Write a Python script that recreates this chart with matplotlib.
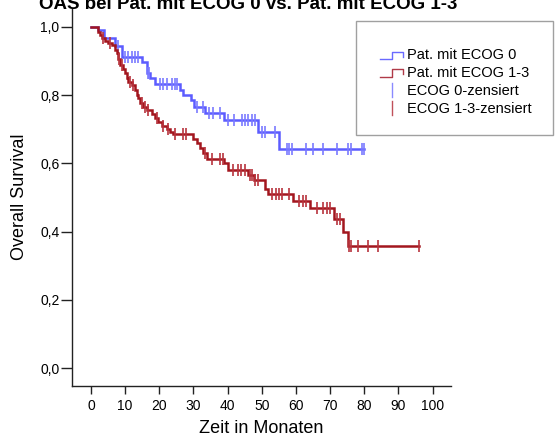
import numpy as np
import matplotlib
matplotlib.use("Agg")
import matplotlib.pyplot as plt
from matplotlib.lines import Line2D
from matplotlib.patches import Rectangle

plt.rcParams['font.family'] = ['Liberation Sans', 'DejaVu Sans']

# ---------------- data ----------------
title = "OAS bei Pat. mit ECOG 0 vs. Pat. mit ECOG 1-3"
x_label = "Zeit in Monaten"
y_label = "Overall Survival"
x_ticks = [0, 10, 20, 30, 40, 50, 60, 70, 80, 90, 100]
y_ticks = [0.0, 0.2, 0.4, 0.6, 0.8, 1.0]
y_tick_labels = ["0,0", "0,2", "0,4", "0,6", "0,8", "1,0"]
legend_labels = ["Pat. mit ECOG 0", "Pat. mit ECOG 1-3", "ECOG 0-zensiert", "ECOG 1-3-zensiert"]

blue_event_t = [2.1, 3.8, 7.0, 9.0, 14.8, 16.3, 17.4, 18.7, 26.1, 26.9, 29.2, 30.2,
                33.4, 38.9, 49.0, 55.1]
blue_surv = [0.990, 0.967, 0.944, 0.912, 0.898, 0.864, 0.849, 0.832, 0.815, 0.800,
             0.785, 0.766, 0.748, 0.727, 0.691, 0.642]
blue_end = 79.9
blue_cens = [8.0, 10.0, 10.9, 11.9, 12.9, 13.9, 16.7, 17.1, 20.2, 21.2, 22.2, 23.6,
             24.5, 25.3, 31.0, 32.9, 34.6, 35.7, 37.8, 40.0, 41.9, 44.1, 45.1, 46.1,
             47.1, 48.0, 50.0, 51.0, 53.9, 57.3, 58.1, 58.8, 63.0, 65.1, 68.0, 72.1,
             75.3, 76.0, 79.3, 79.9]

red_event_t = [2.1, 2.6, 3.1, 4.1, 5.1, 6.1, 7.0, 7.5, 8.0, 8.5, 9.5, 10.0, 10.5,
               10.9, 11.9, 12.9, 13.4, 13.9, 14.3, 15.3, 16.3, 17.8, 18.7, 19.7,
               20.7, 22.2, 23.1, 24.1, 30.0, 31.0, 31.9, 32.9, 33.9, 39.0, 40.2,
               46.1, 47.6, 51.0, 51.9, 59.1, 64.1, 71.0, 73.9, 75.1]
red_surv = [0.985, 0.976, 0.966, 0.958, 0.951, 0.946, 0.932, 0.922, 0.907, 0.888,
            0.876, 0.864, 0.851, 0.839, 0.829, 0.815, 0.800, 0.790, 0.776, 0.766,
            0.756, 0.746, 0.732, 0.722, 0.709, 0.702, 0.693, 0.686, 0.670, 0.659,
            0.645, 0.629, 0.614, 0.600, 0.580, 0.566, 0.551, 0.524, 0.509, 0.490,
            0.468, 0.437, 0.400, 0.358]
red_end = 96.0
red_cens = [3.4, 5.6, 8.2, 9.2, 11.4, 12.2, 14.8, 15.8, 16.8, 19.2, 21.2, 22.5,
            24.6, 27.0, 27.8, 33.3, 35.3, 37.8, 38.6, 41.7, 43.1, 43.8, 45.0, 46.6,
            47.2, 48.0, 49.0, 52.9, 54.2, 55.1, 56.0, 58.1, 61.0, 62.0, 63.0, 66.1,
            68.0, 69.0, 70.0, 71.9, 72.9, 75.4, 76.0, 78.1, 81.0, 83.9, 96.0]

blue_col = '#5c5cff'
blue_cens_col = '#7a7aff'
red_col = '#a3161e'
red_cens_col = '#b8343d'

# ---------------- figure ----------------
W, H = 559, 436
fig = plt.figure(figsize=(W / 100, H / 100), dpi=100)

def fx(px):
    return px / W

def fy(py):
    return 1 - py / H

ax = fig.add_axes([fx(72), fy(386.4), fx(451) - fx(72), fy(9) - fy(386.4)])
ax.set_xlim(-5.56, 105.4)
ax.set_ylim(-0.053, 1.052)


def km(ev_t, surv, end):
    xs = np.concatenate([[0.0], ev_t, [end]])
    ys = np.concatenate([[1.0], surv, [surv[-1]]])
    return xs, ys


def surv_at(ev_t, surv, t):
    ev_t = np.asarray(ev_t)
    allv = np.concatenate([[1.0], surv])
    idx = np.searchsorted(ev_t, t, side='right')
    return allv[idx]


for ev, sv, end, cens, col, ccol in [
        (blue_event_t, blue_surv, blue_end, blue_cens, blue_col, blue_cens_col),
        (red_event_t, red_surv, red_end, red_cens, red_col, red_cens_col)]:
    xs, ys = km(ev, sv, end)
    ax.step(xs, ys, where='post', color=col, lw=1.8, solid_joinstyle='miter')
    cy = [surv_at(ev, sv, c) for c in cens]
    ax.plot(cens, cy, ls='none', marker='|', markersize=8, mew=1.2, color=ccol)

for s in ['top', 'right']:
    ax.spines[s].set_visible(False)
for s in ['left', 'bottom']:
    ax.spines[s].set_color('#222222')
    ax.spines[s].set_linewidth(1.0)

ax.set_xticks(x_ticks)
ax.set_xticklabels([str(v) for v in x_ticks], fontsize=10)
ax.set_yticks(y_ticks)
ax.set_yticklabels(y_tick_labels, fontsize=10)
ax.tick_params(axis='x', direction='out', length=6, width=1, color='#222222', pad=3)
ax.tick_params(axis='y', direction='out', length=8, width=1, color='#222222', pad=1)

fig.text(fx(261.5), fy(433), x_label, ha='center', va='baseline', fontsize=13)
fig.text(fx(20), fy(197), y_label, ha='center', va='center', rotation=90, fontsize=13)
fig.text(fx(248), fy(9), title, ha='center', va='baseline', fontsize=13.5,
         fontweight='bold')

# ---------------- legend ----------------
fig.add_artist(Rectangle((fx(356), fy(135)), fx(553) - fx(356), fy(21) - fy(135),
                         transform=fig.transFigure, fill=False,
                         edgecolor='#a0a0a0', lw=1.0))
for dy, col in [(0, '#6a6aff'), (17.3, '#b03a48')]:
    xs = [380, 391.7, 391.7, 402.7, 402.7]
    ys = [59.3 + dy, 59.3 + dy, 52 + dy, 52 + dy, 56.7 + dy]
    fig.add_artist(Line2D([fx(v) for v in xs], [fy(v) for v in ys],
                          transform=fig.transFigure, color=col, lw=1.0))
for (y0, y1), col in [((83.3, 96.7), '#8a8aff'), ((100.7, 115), '#c0505a')]:
    fig.add_artist(Line2D([fx(391.7), fx(391.7)], [fy(y0), fy(y1)],
                          transform=fig.transFigure, color=col, lw=1.0))
for lab, yc in zip(legend_labels, [55, 72.7, 91, 109.3]):
    fig.text(fx(406.7), fy(yc), lab, ha='left', va='center', fontsize=10.5)

fig.savefig('out.png', dpi=100)
